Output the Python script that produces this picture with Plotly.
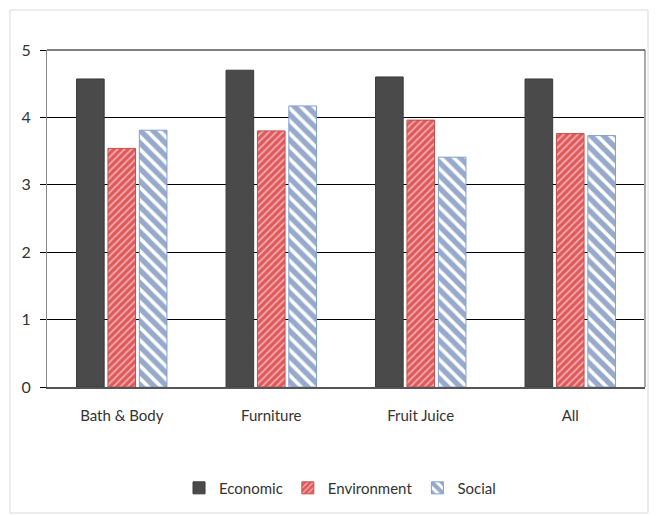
import plotly.graph_objects as go

categories = ["Bath & Body", "Furniture", "Fruit Juice", "All"]
economic = [4.57, 4.70, 4.60, 4.57]
environment = [3.54, 3.80, 3.96, 3.76]
social = [3.81, 4.17, 3.41, 3.73]
y_ticks = [0, 1, 2, 3, 4, 5]

FONT = "Lato, Open Sans, sans-serif"

fig = go.Figure()
fig.add_trace(go.Bar(
    name="Economic", x=categories, y=economic,
    marker=dict(color="#4a4a4a", line=dict(color="#3a3a3a", width=1)),
))
fig.add_trace(go.Bar(
    name="Environment", x=categories, y=environment,
    marker=dict(color="#e0585a", line=dict(color="#c0504d", width=1),
                pattern=dict(shape="/", fgcolor="white", bgcolor="#e0585a",
                             size=5, solidity=0.35, fillmode="overlay")),
))
fig.add_trace(go.Bar(
    name="Social", x=categories, y=social,
    marker=dict(color="white", line=dict(color="#7f9fcf", width=1),
                pattern=dict(shape="\\", fgcolor="#2f5597", bgcolor="white",
                             size=9, solidity=0.6, fillmode="overlay")),
))

fig.update_layout(
    width=657, height=516,
    margin=dict(l=47, r=12, t=50, b=129),
    paper_bgcolor="white", plot_bgcolor="white",
    barmode="group", bargap=0.37, bargroupgap=0.12,
    font=dict(family=FONT, size=15, color="#333"),
    showlegend=True,
    legend=dict(orientation="h", x=0.49, xanchor="center", y=-0.30, yanchor="middle",
                font=dict(size=15, color="#333"), itemwidth=30, traceorder="normal"),
    xaxis=dict(showgrid=False, showline=True, linecolor="#555", linewidth=2,
               ticks="", tickfont=dict(size=15, color="#333"), mirror=False,
               ticklabelstandoff=14),
    yaxis=dict(range=[0, 5], tickvals=y_ticks, showgrid=True, gridcolor="#000",
               gridwidth=1, showline=True, linecolor="#888", linewidth=1,
               ticks="outside", ticklen=6, tickcolor="#000",
               tickfont=dict(size=16, color="#333"), zeroline=False,
               ticklabelstandoff=6),
    shapes=[
        dict(type="rect", xref="paper", yref="paper",
             x0=(10 - 47) / 598, x1=(648 - 47) / 598, y0=(387 - 513) / 337, y1=(387 - 10) / 337,
             line=dict(color="#d9d9d9", width=1), fillcolor="rgba(0,0,0,0)", layer="below"),
        dict(type="line", xref="paper", yref="paper", x0=1, x1=1, y0=0, y1=1,
             line=dict(color="#aaa", width=2)),
        dict(type="line", xref="paper", yref="paper", x0=0, x1=1, y0=1, y1=1,
             line=dict(color="#000", width=1)),
    ],
)

fig.write_html("out.html")
